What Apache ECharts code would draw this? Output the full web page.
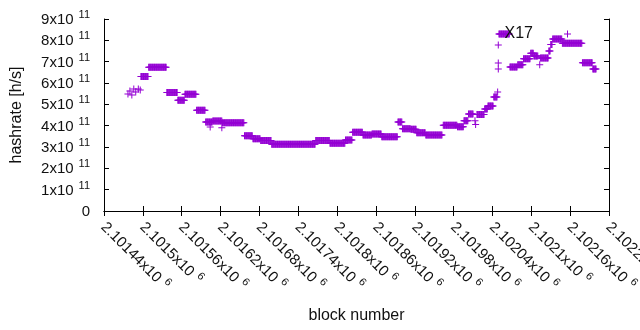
<!DOCTYPE html>
<html>
<head>
<meta charset="utf-8">
<script src="https://cdn.jsdelivr.net/npm/echarts@6/dist/echarts.min.js"></script>
<style>html,body{margin:0;padding:0;background:#fff}#c{width:640px;height:330px}</style>
</head>
<body>
<div id="c"></div>
<script>
// Runs of constant hashrate: first block, last block, hashrate [h/s]
const runStart = [2101477,2101480,2101483,2101486,2101489,2101493,2101496,2101497,2101509,2101537,2101554,2101565,2101583,2101597,2101604,2101608,2101622,2101623,2101657,2101670,2101682,2101699,2101767,2101789,2101813,2101824,2101840,2101854,2101869,2101894,2101901,2101914,2101923,2101937,2101964,2101986,2101996,2102003,2102013,2102014,2102016,2102028,2102033,2102042,2102048,2102049,2102049,2102049,2102050,2102067,2102079,2102088,2102099,2102104,2102113,2102114,2102127,2102130,2102133,2102148,2102179,2102195];
const runEnd   = [2101477,2101480,2101483,2101486,2101489,2101493,2101496,2101508,2101536,2101553,2101564,2101582,2101596,2101607,2101604,2101622,2101622,2101656,2101669,2101681,2101698,2101766,2101788,2101812,2101823,2101839,2101853,2101868,2101893,2101900,2101913,2101922,2101936,2101962,2101985,2101995,2102002,2102010,2102013,2102014,2102027,2102032,2102041,2102047,2102048,2102049,2102049,2102049,2102066,2102078,2102087,2102098,2102103,2102110,2102113,2102126,2102129,2102132,2102147,2102178,2102194,2102200];
const runValue = [5.49e11,5.63e11,5.44e11,5.72e11,5.58e11,5.72e11,5.67e11,6.31e11,6.74e11,5.56e11,5.19e11,5.47e11,4.72e11,4.17e11,3.94e11,4.22e11,3.90e11,4.14e11,3.53e11,3.39e11,3.30e11,3.13e11,3.30e11,3.17e11,3.33e11,3.69e11,3.56e11,3.61e11,3.48e11,4.17e11,3.86e11,3.83e11,3.67e11,3.56e11,4.02e11,3.95e11,4.23e11,4.55e11,4.23e11,4.06e11,4.52e11,4.78e11,4.92e11,5.34e11,5.58e11,6.66e11,6.94e11,7.78e11,8.30e11,6.75e11,6.85e11,7.14e11,7.40e11,7.27e11,6.85e11,7.17e11,7.50e11,7.80e11,8.06e11,7.86e11,6.95e11,6.66e11];
const seriesName = 'X17';
const xMin = 2101440, xMax = 2102220, xStep = 60;
const yMin = 0, yMax = 9e11, yStep = 1e11;

const points = [];
for (let i = 0; i < runStart.length; i++) {
  for (let b = runStart[i]; b <= runEnd[i]; b++) points.push([b, runValue[i]]);
}

const plus = 'path://M0,3H7V4H0Z M3,0H4V7H3Z';
const purple = '#9400d3';
const font = 'Liberation Sans, Arial, sans-serif';
const txt = '#111';
const xFmt = v => '{b|' + parseFloat((v / 1e6).toFixed(5)) + 'x10}{s|6}';
const yFmt = v => v === 0 ? '{b|0}' : '{b|' + Math.round(v / 1e11) + 'x10}{s|11}';
const rich = {
  b: { fontSize: 15, fontFamily: font, color: txt, verticalAlign: 'bottom', lineHeight: 17 },
  s: { fontSize: 11, fontFamily: font, color: txt, verticalAlign: 'bottom', lineHeight: 17, padding: [0, 0, 7, 5] }
};
const axisLine = { show: true, lineStyle: { color: '#000', width: 1 } };
const tick = { show: true, inside: true, length: 5, lineStyle: { color: '#000' } };

const chart = echarts.init(document.getElementById('c'), null, { renderer: 'canvas' });
chart.setOption({
  animation: false,
  backgroundColor: '#fff',
  grid: { left: 104, right: 31, top: 19, bottom: 119, containLabel: false, outerBoundsMode: 'none' },
  legend: {
    data: [{ name: seriesName, icon: plus }],
    align: 'right', right: 69, top: 26, padding: 0,
    itemWidth: 7, itemHeight: 7,
    textStyle: { fontSize: 16, fontFamily: font, color: txt, padding: [0, 26, 0, 0] }
  },
  xAxis: [
    { type: 'value', min: xMin, max: xMax, interval: xStep, position: 'bottom',
      name: 'block number', nameLocation: 'middle', nameGap: 97,
      nameTextStyle: { fontSize: 16, fontFamily: font, color: txt },
      axisLine: axisLine, axisTick: tick, splitLine: { show: false },
      axisLabel: { rotate: -45, margin: 13, formatter: xFmt, rich: rich, showMaxLabel: true, hideOverlap: false } },
    { type: 'value', min: xMin, max: xMax, interval: xStep, position: 'top',
      axisLine: axisLine, axisTick: tick, splitLine: { show: false }, axisLabel: { show: false } }
  ],
  yAxis: [
    { type: 'value', min: yMin, max: yMax, interval: yStep, position: 'left',
      name: 'hashrate [h/s]', nameLocation: 'middle', nameGap: 79, nameRotate: 90,
      nameTextStyle: { fontSize: 16, fontFamily: font, color: txt },
      axisLine: axisLine, axisTick: tick, splitLine: { show: false },
      axisLabel: { margin: 14, formatter: yFmt, rich: rich } },
    { type: 'value', min: yMin, max: yMax, interval: yStep, position: 'right',
      axisLine: axisLine, axisTick: tick, splitLine: { show: false }, axisLabel: { show: false } }
  ],
  series: [{
    name: seriesName, type: 'scatter', data: points,
    symbol: plus, symbolSize: 7,
    itemStyle: { color: purple, opacity: 1 },
    emphasis: { disabled: true }
  }]
});
</script>
</body>
</html>
